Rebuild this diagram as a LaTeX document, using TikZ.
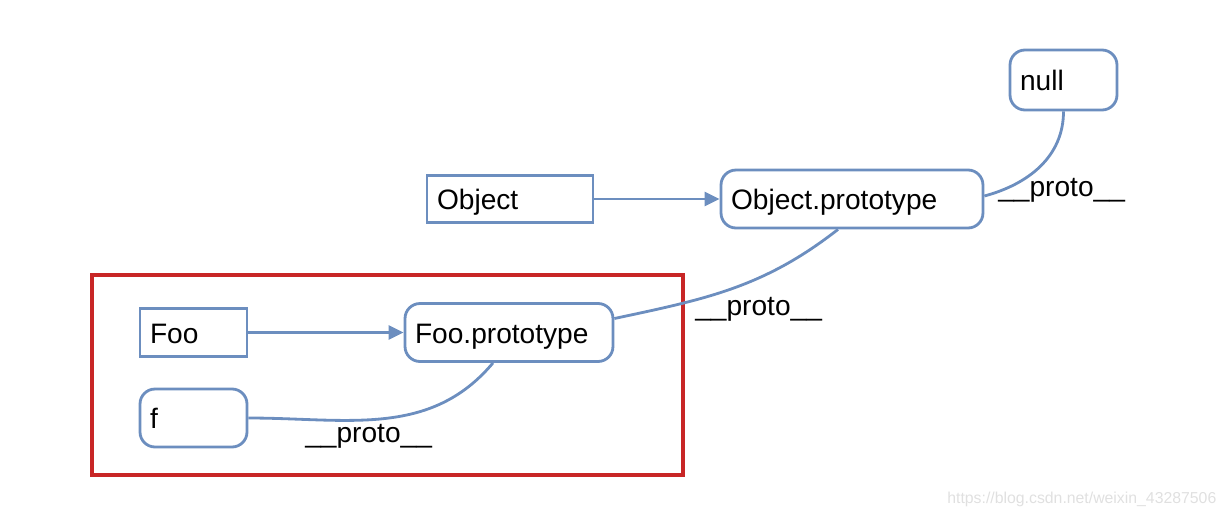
\documentclass[tikz,border=0pt]{standalone}
\usepackage{fontspec}
\setmainfont{Liberation Sans}
\usetikzlibrary{arrows.meta}
\definecolor{protoblue}{RGB}{108,142,191}
\definecolor{boxred}{RGB}{200,38,38}
\tikzset{
  objbox/.style={draw=protoblue, line width=1.6pt, fill=white, inner xsep=0.2cm, inner ysep=0pt,
    align=left, text height=1.2em, text depth=0pt, font=\fontsize{16}{19}\selectfont},
  protobox/.style={objbox, rounded corners=0.3cm},
  link/.style={protoblue, line width=1.6pt},
  protolabel/.style={anchor=base west, inner sep=0pt, font=\fontsize{16}{19}\selectfont}
}
\begin{document}
\begin{tikzpicture}[x=0.02cm,y=-0.02cm]
	% Canvas
	\useasboundingbox (0,0) rectangle (1228,514);
	
	% Draw red frame
	\draw[boxred, line width=2.2pt] (92,275) rectangle (683,475);
	
	% Define nodes
	\node[protobox, text width=1.74cm, minimum height=1.2cm] (null) at (1063.5,80) {null};
	\node[objbox, text width=2.92cm, minimum height=0.94cm] (obj) at (510,199) {Object};
	\node[protobox, text width=4.84cm, minimum height=1.16cm] (objproto) at (852,199) {Object.prototype};
	\node[objbox, text width=1.74cm, minimum height=0.96cm] (foo) at (193.5,332.5) {Foo};
	\node[protobox, text width=3.76cm, minimum height=1.16cm] (fooproto) at (509,332.5) {Foo.prototype};
	\node[protobox, text width=1.74cm, minimum height=1.16cm] (f) at (193.5,418) {f};
	
	% Draw constructor links
	\draw[link,-{Triangle[length=0.3cm,width=0.28cm]}] (obj) -- (objproto);
	\draw[link,-{Triangle[length=0.3cm,width=0.28cm]}] (foo) -- (fooproto);
	
	% Draw proto chain
	\draw[link] ([yshift=0.06cm]objproto.east) to[out=15,in=-90] (null.south);
	\draw[link] ([yshift=0.28cm]fooproto.east) to[out=12,in=-142] ([xshift=-0.28cm]objproto.south);
	\draw[link] (f.east) to[out=0,in=-130] ([xshift=-0.32cm]fooproto.south);
	
	% Labels
	\node[protolabel] (lbnull) at (998,196) {\_\_proto\_\_};
	\node[protolabel] (lbobj) at (695,315) {\_\_proto\_\_};
	\node[protolabel] (lbfoo) at (305,442) {\_\_proto\_\_};
	
	% Watermark
	\node[anchor=base west, inner sep=0pt, text=black!12, font=\fontsize{9}{11}\selectfont] (mark) at (947,503) {https://blog.csdn.net/weixin\_43287506};
\end{tikzpicture}
\end{document}
